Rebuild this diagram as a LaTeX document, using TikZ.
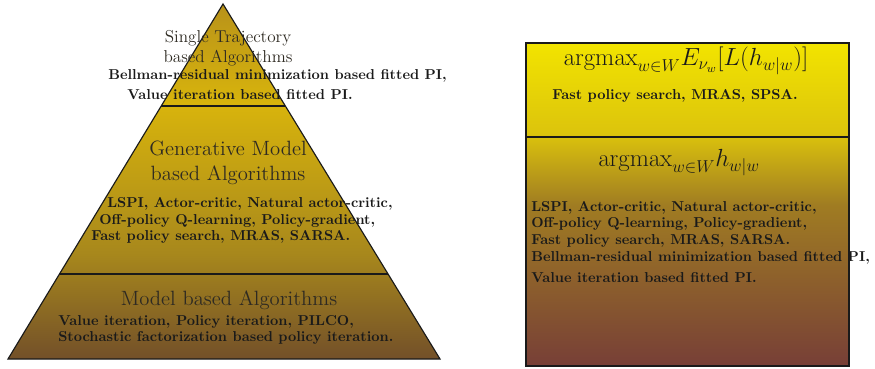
\documentclass[tikz,border=0pt]{standalone}
\usepackage{tikz}
\usepackage{xcolor}
\usetikzlibrary{calc}
\definecolor{vdarkgray}{HTML}{1a1a1a}
\definecolor{vgray}{HTML}{2e2a22}
\definecolor{ptop}{HTML}{b8921a}
\definecolor{pbright}{HTML}{d8b40c}
\definecolor{pmid}{HTML}{a8881c}
\definecolor{pbot}{HTML}{735029}
\definecolor{btop}{HTML}{f2e400}
\definecolor{bupper}{HTML}{dcc40c}
\definecolor{bmid}{HTML}{a07c22}
\definecolor{bbot}{HTML}{773f37}
\pgfdeclareverticalshading{pyrshade}{100bp}{color(0bp)=(pbot); color(25bp)=(pbot); color(40bp)=(pmid); color(61bp)=(pbright); color(75bp)=(ptop); color(100bp)=(ptop)}
\pgfdeclareverticalshading{boxshade}{100bp}{color(0bp)=(bbot); color(25bp)=(bbot); color(50bp)=(bmid); color(61bp)=(bupper); color(75bp)=(btop); color(100bp)=(btop)}
\tikzset{
	title/.style={color=vgray, align=center, anchor=base, font=\Large},
	objective/.style={color=vdarkgray, anchor=base, font=\fontsize{16.8}{20}\selectfont},
	list/.style={color=vdarkgray, anchor=base west, inner sep=0pt, font=\bfseries},
}

\begin{document}
\begin{tikzpicture}[x=0.0245cm, y=-0.0245cm]
		\useasboundingbox (0,0) rectangle (875,369);
		% pyramid
		\coordinate (T) at (223,4);
		\coordinate (BL) at (8,359);
		\coordinate (BR) at (440,359);
		\draw[color=vdarkgray, thick, shading=pyrshade] (T) -- (BL) -- (BR) -- cycle;
		\coordinate (A) at ($(T)!.2873!(BL)$);
		\coordinate (B) at ($(T)!.2873!(BR)$);
		\coordinate (C) at ($(T)!.7606!(BL)$);
		\coordinate (D) at ($(T)!.7606!(BR)$);
		\draw[color=vdarkgray, thick] (A) -- (B);
		\draw[color=vdarkgray, thick] (C) -- (D);
		\node[title, font=\large] (single) at (228,63) {Single Trajectory\\based Algorithms};
		\node[list] (single1) at (108,80) {Bellman-residual minimization based fitted PI,};
		\node[list] (single2) at (127,100) {Value iteration based fitted PI.};
		\node[title] (gen) at (228,181) {Generative Model\\based Algorithms};
		\node[list] (gen1) at (107,208) {LSPI, Actor-critic, Natural actor-critic,};
		\node[list] (gen2) at (99,225) {Off-policy Q-learning, Policy-gradient,};
		\node[list] (gen3) at (91,241) {Fast policy search, MRAS, SARSA.};
		\node[title] (model) at (229,305) {Model based Algorithms};
		\node[list] (model1) at (58,325) {Value iteration, Policy iteration, PILCO,};
		\node[list] (model2) at (58,341) {Stochastic factorization based policy iteration.};
		% box
		\coordinate (E) at (526,43);
		\coordinate (F) at (849,366);
		\draw[color=vdarkgray, thick, shading=boxshade] (E) rectangle (F);
		\coordinate (G) at (526,137);
		\coordinate (H) at (849,137);
		\draw[color=vdarkgray, thick] (G) -- (H);
		\node[objective] (obj1) at (686,66) {$\mathrm{argmax}_{w\in W}E_{\nu_w}[L(h_{w|w})]$};
		\node[list] (obj1a) at (552,100) {Fast policy search, MRAS, SPSA.};
		\node[objective] (obj2) at (679,167) {$\mathrm{argmax}_{w\in W}h_{w|w}$};
		\node[list] (obj2a) at (531,212) {LSPI, Actor-critic, Natural actor-critic,};
		\node[list] (obj2b) at (531,228) {Off-policy Q-learning, Policy-gradient,};
		\node[list] (obj2c) at (531,245) {Fast policy search, MRAS, SARSA.};
		\node[list] (obj2d) at (531,262) {Bellman-residual minimization based fitted PI,};
		\node[list] (obj2e) at (531,282) {Value iteration based fitted PI.};
	\end{tikzpicture}
\end{document}
